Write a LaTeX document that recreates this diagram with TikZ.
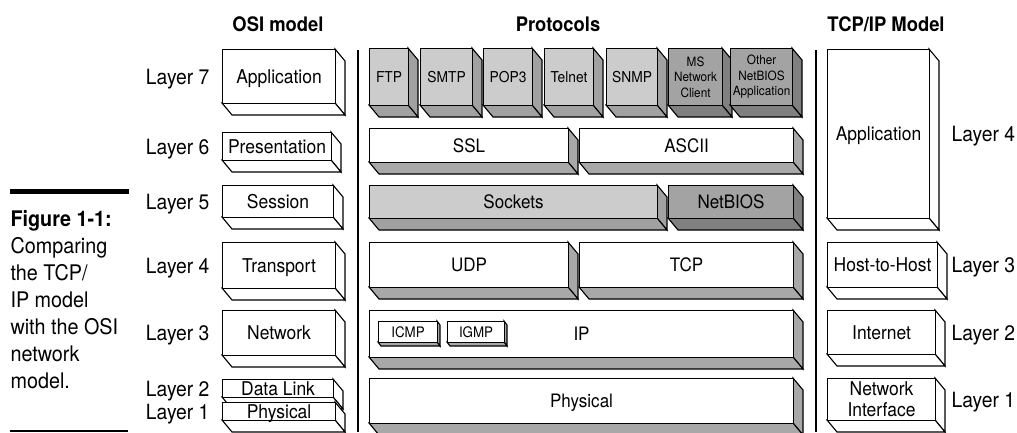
\documentclass[tikz,border=0pt]{standalone}
\usepackage{fontspec}
\setmainfont{TeX Gyre Heros}[FakeStretch=0.92]
\usetikzlibrary{positioning}

\definecolor{lightface}{gray}{0.80}
\definecolor{lightshade}{gray}{0.63}
\definecolor{darkface}{gray}{0.64}
\definecolor{darkshade}{gray}{0.50}
\definecolor{whiteshade}{gray}{0.66}

% depth of the 3d slabs
\newcommand{\dpx}{10}
\newcommand{\dpy}{12}
% #1 name, #2 #3 top left, #4 #5 bottom right, #6 front style, #7 shade, #8 text
\newcommand{\layerslab}[8]{%
  \filldraw[fill=#7] (#4,#3) -- ++(\dpx,\dpy) -- (#4+\dpx,#5+\dpy) -- (#4,#5) -- cycle;
  \filldraw[fill=#7] (#2,#5) -- (#4,#5) -- (#4+\dpx,#5+\dpy) -- (#2+\dpx,#5+\dpy) -- cycle;
  \node[#6, anchor=north west, minimum width=#4-#2, minimum height=#5-#3] (#1) at (#2,#3) {#8};
}

\begin{document}
\begin{tikzpicture}[x=1pt, y=-1pt, line width=1.1pt,
    osibox/.style={draw, fill=white, inner sep=0pt, font=\fontsize{19}{21}\selectfont, text height=13.6pt, text depth=0pt},
    twoline/.style={draw, fill=white, inner sep=0pt, align=center, font=\fontsize{19}{21}\selectfont},
    appbox/.style={draw, fill=lightface, inner sep=0pt, font=\fontsize{15}{16}\selectfont, text height=10.8pt, text depth=0pt},
    nbbox/.style={draw, fill=darkface, inner sep=0pt, align=center, font=\fontsize{12.8}{15.5}\selectfont},
    rowbox/.style={draw, fill=white, inner sep=0pt, font=\fontsize{18.5}{21}\selectfont, text height=13.3pt, text depth=0pt},
    lrowbox/.style={rowbox, fill=lightface},
    drowbox/.style={rowbox, fill=darkface},
    tinybox/.style={draw, fill=white, inner sep=0pt, font=\fontsize{14.5}{15}\selectfont, text height=10.4pt, text depth=0pt},
    layerlbl/.style={inner sep=0pt, font=\fontsize{21}{22}\selectfont, text height=15pt, text depth=0pt},
    head/.style={font=\bfseries\fontsize{20}{22}\selectfont},
    caption/.style={inner sep=0pt, align=left, font=\fontsize{21.5}{27}\selectfont}]
  \useasboundingbox (0,0) rectangle (1017,432);
  \fill[white] (0,0) rectangle (1017,432);

  % headings
  \node[head] (osihead) at (278,24) {OSI model};
  \node[head] (protohead) at (558,24) {Protocols};
  \node[head] (tcphead) at (886,24) {TCP/IP Model};

  % caption
  \draw[line width=5pt] (10,191) -- (129,191);
  \node[caption, anchor=north west] (figcap) at (10,210)
    {\textbf{Figure 1-1:}\\Comparing\\the TCP/\\IP model\\with the OSI\\network\\model.};
  \draw (10,431) -- (128,431);

  % separators
  \draw[line width=2.5pt] (358,50) -- (358,432);
  \draw[line width=2.5pt] (816,50) -- (816,432);

  % OSI model
  \layerslab{osiapp}{222}{49}{335}{103}{osibox}{white}{Application}
  \layerslab{osipre}{222}{132}{331}{160}{osibox}{white}{Presentation}
  \layerslab{osises}{222}{185}{333}{217}{osibox}{white}{Session}
  \layerslab{ositra}{222}{242}{335}{288}{osibox}{white}{Transport}
  \layerslab{osinet}{222}{310}{335}{355}{osibox}{white}{Network}
  \layerslab{osidl}{222}{379}{333}{397}{osibox}{white}{Data Link}
  \layerslab{osiphy}{222}{402}{335}{420}{osibox}{white}{Physical}

  \node[layerlbl, left=12pt of osiapp] (l7) {Layer 7};
  \node[layerlbl, left=12pt of osipre] (l6) {Layer 6};
  \node[layerlbl, left=12pt of osises] (l5) {Layer 5};
  \node[layerlbl, left=12pt of ositra] (l4) {Layer 4};
  \node[layerlbl, left=12pt of osinet] (l3) {Layer 3};
  \node[layerlbl, left=12pt of osidl] (l2) {Layer 2};
  \node[layerlbl, left=12pt of osiphy] (l1) {Layer 1};

  % protocols
  \layerslab{ftp}{369}{48}{408}{105}{appbox}{lightshade}{FTP}
  \layerslab{smtp}{420}{48}{472}{105}{appbox}{lightshade}{SMTP}
  \layerslab{pop}{483}{48}{532}{105}{appbox}{lightshade}{POP3}
  \layerslab{telnet}{544}{48}{593}{105}{appbox}{lightshade}{Telnet}
  \layerslab{snmp}{606}{48}{657}{105}{appbox}{lightshade}{SNMP}
  \layerslab{msclient}{668}{48}{722}{105}{nbbox}{darkshade}{MS\\Network\\Client}
  \layerslab{nbapp}{730}{48}{792}{105}{nbbox}{darkshade}{Other\\NetBIOS\\Application}

  \layerslab{ssl}{369}{128}{568}{162}{rowbox}{whiteshade}{SSL}
  \layerslab{ascii}{579}{128}{793}{162}{rowbox}{whiteshade}{ASCII}

  \layerslab{sockets}{369}{185}{657}{218}{lrowbox}{lightshade}{Sockets}
  \layerslab{netbios}{668}{185}{793}{218}{drowbox}{darkshade}{NetBIOS}

  \layerslab{udp}{369}{242}{568}{287}{rowbox}{whiteshade}{UDP}
  \layerslab{tcp}{579}{242}{793}{287}{rowbox}{whiteshade}{TCP}

  \layerslab{ip}{369}{310}{793}{357}{rowbox}{whiteshade}{IP}
  \begin{scope}
    \renewcommand{\dpx}{3}
    \renewcommand{\dpy}{4}
    \layerslab{icmp}{378}{321}{437}{342}{tinybox}{whiteshade}{ICMP}
    \layerslab{igmp}{447}{321}{504}{342}{tinybox}{whiteshade}{IGMP}
  \end{scope}

  \layerslab{phys}{369}{378}{793}{423}{rowbox}{whiteshade}{Physical}

  % TCP/IP model
  \layerslab{tcpapp}{827}{49}{929}{218}{osibox}{white}{Application}
  \layerslab{host}{827}{242}{937}{287}{osibox}{white}{Host-to-Host}
  \layerslab{inet}{827}{310}{935}{354}{osibox}{white}{Internet}
  \layerslab{netif}{827}{378}{935}{420}{twoline}{white}{Network\\Interface}

  \coordinate (rcol) at (951,0);
  \node[layerlbl, anchor=west] (t4) at (tcpapp -| rcol) {Layer 4};
  \node[layerlbl, anchor=west] (t3) at (host -| rcol) {Layer 3};
  \node[layerlbl, anchor=west] (t2) at (inet -| rcol) {Layer 2};
  \node[layerlbl, anchor=west] (t1) at (netif -| rcol) {Layer 1};
\end{tikzpicture}
\end{document}
